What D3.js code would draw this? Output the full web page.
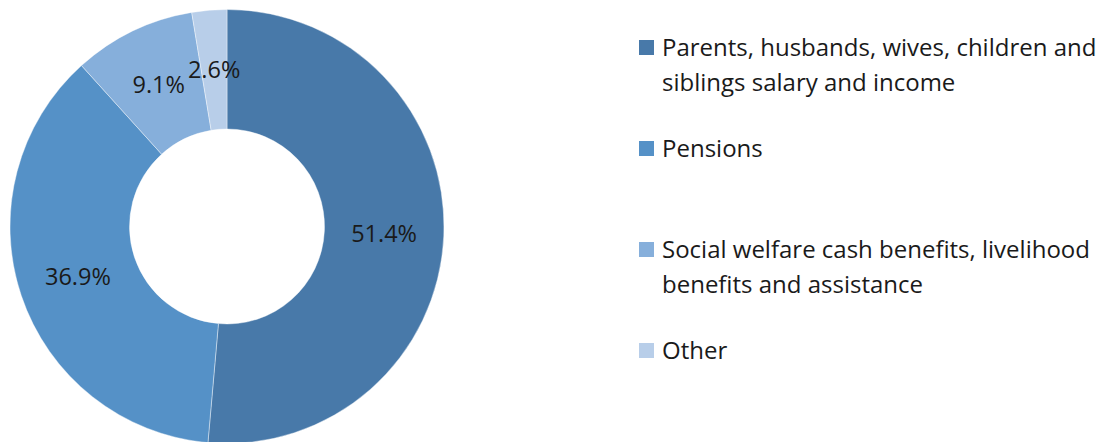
<!DOCTYPE html>
<html>
<head>
<meta charset="utf-8">
<script src="https://cdn.jsdelivr.net/npm/d3@7"></script>
<style>
  body { margin: 0; background: #fff; }
  text { font-family: "Open Sans", sans-serif; fill: #1a1a1a; }
</style>
</head>
<body>
<div id="chart"></div>
<script>
// data
var categories = [
    "Parents, husbands, wives, children and siblings salary and income",
    "Pensions",
    "Social welfare cash benefits, livelihood benefits and assistance",
    "Other"
];
var values = [51.4, 36.9, 9.1, 2.6];
var legendLines = [
    ["Parents, husbands, wives, children and", "siblings salary and income"],
    ["Pensions"],
    ["Social welfare cash benefits, livelihood", "benefits and assistance"],
    ["Other"]
];
var colors = ["#4879a9", "#5591c7", "#86afdb", "#b8cee9"];

var width = 1102, height = 442;
var cx = 227, cy = 226.5, outerR = 217, innerR = 97.5;

var svg = d3.select("#chart")
    .append("svg")
    .attr("width", width)
    .attr("height", height);

var data = categories.map(function (c, i) {
    return { name: c, value: values[i] };
});

var pie = d3.pie()
    .sort(null)
    .value(function (d) { return d.value; });

var arc = d3.arc()
    .innerRadius(innerR)
    .outerRadius(outerR);

var g = svg.append("g")
    .attr("transform", "translate(" + cx + "," + cy + ")");

var arcs = pie(data);

g.selectAll("path")
    .data(arcs)
    .enter()
    .append("path")
    .attr("d", arc)
    .attr("fill", function (d, i) { return colors[i]; })
    .attr("stroke", "#ffffff")
    .attr("stroke-opacity", 0.5)
    .attr("stroke-width", 0.8);

// labels at ring centroid
g.selectAll("text.lbl")
    .data(arcs)
    .enter()
    .append("text")
    .attr("class", "lbl")
    .attr("x", function (d) { return arc.centroid(d)[0]; })
    .attr("y", function (d) { return arc.centroid(d)[1]; })
    .attr("text-anchor", "middle")
    .attr("dy", "0.35em")
    .style("font-size", "23.5px")
    .text(function (d) { return d.data.value.toFixed(1) + "%"; });

// legend
var legendTop = [40, 141, 242, 343];
var legend = svg.selectAll("g.leg")
    .data(legendLines)
    .enter()
    .append("g")
    .attr("class", "leg")
    .attr("transform", function (d, i) { return "translate(639," + legendTop[i] + ")"; });

legend.append("rect")
    .attr("width", 15)
    .attr("height", 15)
    .attr("fill", function (d, i) { return colors[i]; });

legend.each(function (lines) {
    var t = d3.select(this).append("text")
        .attr("x", 23)
        .attr("y", 16)
        .style("font-size", "24px");
    lines.forEach(function (l, j) {
        t.append("tspan")
            .attr("x", 23)
            .attr("dy", j === 0 ? 0 : 35)
            .text(l);
    });
});
</script>
</body>
</html>
